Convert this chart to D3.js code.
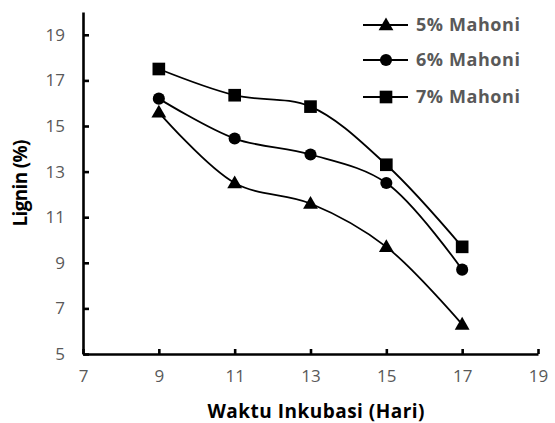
<!DOCTYPE html>
<html><head><meta charset="utf-8">
<script src="https://cdn.jsdelivr.net/npm/d3@7"></script>
<style>body{margin:0;background:#fff}svg{display:block}</style>
</head><body>
<svg id="c" width="555" height="423"></svg>
<script>
const days = [9, 11, 13, 15, 17];
const mahoni5 = [15.6, 12.5, 11.6, 9.7, 6.3];
const mahoni6 = [16.2, 14.45, 13.75, 12.5, 8.7];
const mahoni7 = [17.5, 16.35, 15.85, 13.3, 9.7];
const seriesNames = ["5% Mahoni", "6% Mahoni", "7% Mahoni"];
const xTicks = [7, 9, 11, 13, 15, 17, 19];
const yTicks = [5, 7, 9, 11, 13, 15, 17, 19];

const svg = d3.select("#c");
const x = d3.scaleLinear().domain([7, 19]).range([83, 538]);
const y = d3.scaleLinear().domain([5, 20]).range([354, 12]);

const series = [
  {name: seriesNames[0], vals: mahoni5, sym: d3.symbolTriangle, size: 95},
  {name: seriesNames[1], vals: mahoni6, sym: d3.symbolCircle, size: 115},
  {name: seriesNames[2], vals: mahoni7, sym: d3.symbolSquare, size: 160}
];

// axes
const xAxis = d3.axisBottom(x).tickValues(xTicks).tickSizeInner(-5).tickSizeOuter(0).tickPadding(16);
const gx = svg.append("g").attr("transform", `translate(0,${y(5)})`).call(xAxis);
const yAxis = d3.axisLeft(y).tickValues(yTicks).tickSizeInner(-6).tickSizeOuter(0).tickPadding(18);
const gy = svg.append("g").attr("transform", `translate(${x(7)},0)`).call(yAxis);
[gx, gy].forEach(g => {
  g.select(".domain").attr("stroke", "#000").attr("stroke-width", 2.6);
  g.selectAll(".tick line").attr("stroke", "#000").attr("stroke-width", 2.6);
  g.selectAll(".tick text").attr("fill", "#595959").attr("font-family", "Open Sans").attr("font-size", 17);
});

const line = d3.line().x((d, i) => x(days[i])).y(d => y(d)).curve(d3.curveCatmullRom.alpha(0.5));
series.forEach(s => {
  svg.append("path").attr("d", line(s.vals)).attr("fill", "none").attr("stroke", "#000").attr("stroke-width", 1.8);
  svg.selectAll(null).data(s.vals).enter().append("path")
    .attr("d", d3.symbol().type(s.sym).size(s.size))
    .attr("transform", (d, i) => `translate(${x(days[i])},${y(d) + (s.sym === d3.symbolTriangle ? 1 : 0)})`)
    .attr("fill", "#000");
});

// legend
const legY = [25, 60, 97];
series.forEach((s, i) => {
  const g = svg.append("g").attr("transform", `translate(0,${legY[i]})`);
  g.append("line").attr("x1", 363).attr("x2", 408).attr("y1", 0).attr("y2", 0).attr("stroke", "#000").attr("stroke-width", 1.8);
  g.append("path").attr("d", d3.symbol().type(s.sym).size(s.size)).attr("transform", `translate(386,${s.sym === d3.symbolTriangle ? 1 : 0})`);
  g.append("text").attr("x", 416).attr("y", 0).attr("dy", "0.36em").text(s.name)
    .attr("font-family", "Open Sans").attr("font-weight", "bold").attr("font-size", 18)
    .attr("fill", "#595959").attr("textLength", 104);
});

// titles
svg.append("text").attr("transform", "translate(27,183) rotate(-90)").attr("text-anchor", "middle")
  .attr("font-family", "Open Sans").attr("font-weight", "bold").attr("font-size", 19)
  .attr("textLength", 87).text("Lignin (%)");
svg.append("text").attr("x", 316).attr("y", 418).attr("text-anchor", "middle")
  .attr("font-family", "Open Sans").attr("font-weight", "bold").attr("font-size", 19)
  .attr("textLength", 217).text("Waktu Inkubasi (Hari)");
</script>
</body></html>
